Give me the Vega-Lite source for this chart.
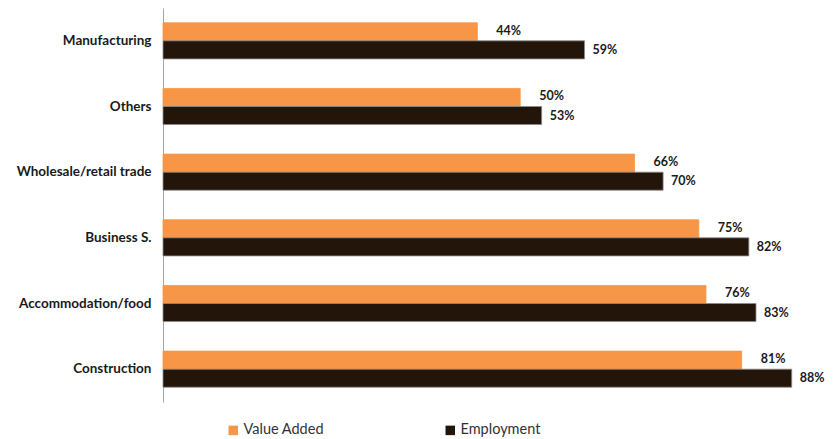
{
  "$schema": "https://vega.github.io/schema/vega-lite/v6.json",
  "width": 643,
  "height": 394,
  "autosize": {"type": "none"},
  "padding": {"left": 163, "top": 8, "right": 34, "bottom": 37},
  "background": "white",
  "config": {"view": {"stroke": null}, "font": "Lato"},
  "data": {
    "values": [
      {"sector": "Manufacturing", "series": "Value Added", "value": 0.44},
      {"sector": "Manufacturing", "series": "Employment", "value": 0.59},
      {"sector": "Others", "series": "Value Added", "value": 0.50},
      {"sector": "Others", "series": "Employment", "value": 0.53},
      {"sector": "Wholesale/retail trade", "series": "Value Added", "value": 0.66},
      {"sector": "Wholesale/retail trade", "series": "Employment", "value": 0.70},
      {"sector": "Business S.", "series": "Value Added", "value": 0.75},
      {"sector": "Business S.", "series": "Employment", "value": 0.82},
      {"sector": "Accommodation/food", "series": "Value Added", "value": 0.76},
      {"sector": "Accommodation/food", "series": "Employment", "value": 0.83},
      {"sector": "Construction", "series": "Value Added", "value": 0.81},
      {"sector": "Construction", "series": "Employment", "value": 0.88}
    ]
  },
  "encoding": {
    "y": {
      "field": "sector",
      "type": "nominal",
      "sort": ["Manufacturing", "Others", "Wholesale/retail trade", "Business S.", "Accommodation/food", "Construction"],
      "scale": {"paddingInner": 0.45, "paddingOuter": 0.225},
      "axis": {
        "title": null,
        "ticks": false,
        "domainColor": "#a6a6a6",
        "domainWidth": 1,
        "labelFont": "Lato",
        "labelFontWeight": "bold",
        "labelFontSize": 13.5,
        "labelColor": "#1a1a1a",
        "labelPadding": 12,
        "labelLimit": 200
      }
    },
    "yOffset": {
      "field": "series",
      "type": "nominal",
      "sort": ["Value Added", "Employment"],
      "scale": {"paddingInner": 0, "paddingOuter": 0}
    },
    "x": {
      "field": "value",
      "type": "quantitative",
      "scale": {"domain": [0, 0.9], "nice": false},
      "axis": null
    }
  },
  "layer": [
    {
      "mark": {"type": "bar", "strokeWidth": 0.8},
      "encoding": {
        "color": {
          "field": "series",
          "type": "nominal",
          "sort": ["Value Added", "Employment"],
          "scale": {"domain": ["Value Added", "Employment"], "range": ["#F79646", "#23150a"]},
          "legend": {
            "title": null,
            "orient": "none",
            "direction": "horizontal",
            "legendX": 63,
            "legendY": 415,
            "symbolType": "square",
            "symbolSize": 90,
            "symbolStrokeWidth": 0,
            "labelFont": "Lato",
            "labelFontSize": 14.5,
            "labelColor": "#333333",
            "labelOffset": 3,
            "columnPadding": 118
          }
        },
        "stroke": {
          "field": "series",
          "type": "nominal",
          "scale": {"domain": ["Value Added", "Employment"], "range": ["#F79646", "#8c8c8c"]},
          "legend": null
        }
      }
    },
    {
      "transform": [{"filter": "datum.series === 'Value Added'"}],
      "mark": {"type": "text", "align": "left", "baseline": "middle", "dx": 19, "dy": -1, "font": "Lato", "fontWeight": "bold", "fontSize": 12.5, "color": "#1a1a1a"},
      "encoding": {"text": {"field": "value", "type": "quantitative", "format": ".0%"}, "detail": {"field": "series"}}
    },
    {
      "transform": [{"filter": "datum.series === 'Employment'"}],
      "mark": {"type": "text", "align": "left", "baseline": "middle", "dx": 8, "font": "Lato", "fontWeight": "bold", "fontSize": 12.5, "color": "#1a1a1a"},
      "encoding": {"text": {"field": "value", "type": "quantitative", "format": ".0%"}, "detail": {"field": "series"}}
    }
  ]
}
